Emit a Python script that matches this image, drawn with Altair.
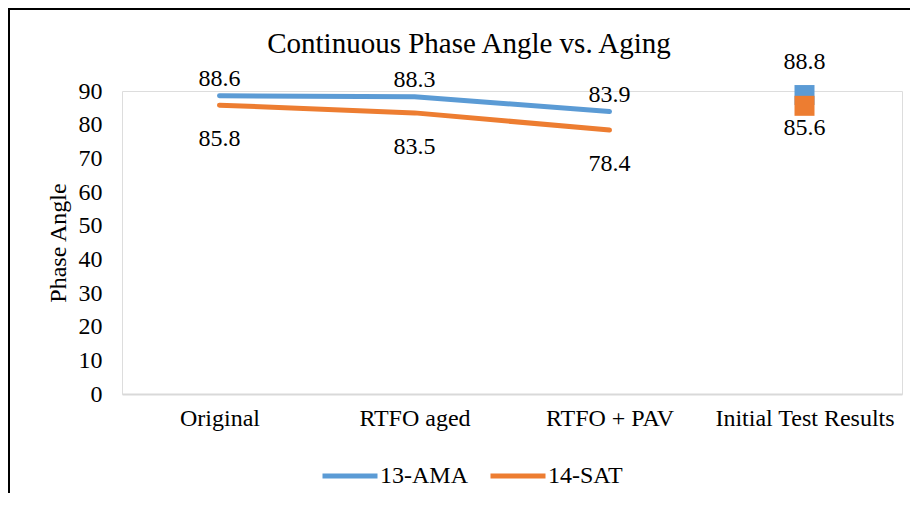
import altair as alt
import pandas as pd

title_text = "Continuous Phase Angle vs. Aging"
categories = ["Original", "RTFO aged", "RTFO + PAV", "Initial Test Results"]
series_names = ["13-AMA", "14-SAT"]
ama_values = [88.6, 88.3, 83.9, 88.8]
sat_values = [85.8, 83.5, 78.4, 85.6]
y_ticks = [0, 10, 20, 30, 40, 50, 60, 70, 80, 90]

rows = []
for name, vals in zip(series_names, [ama_values, sat_values]):
    for c, v in zip(categories, vals):
        rows.append({"stage": c, "series": name, "value": v})
df = pd.DataFrame(rows)

FONT = "Liberation Serif, Times New Roman, serif"
BLUE = "#5B9BD5"
ORANGE = "#ED7D31"
W, H = 780, 303
PAD = {"left": 114, "top": 83, "right": 8, "bottom": 99}

last = categories[-1]
color_scale = alt.Scale(domain=series_names, range=[BLUE, ORANGE])

x_enc = alt.X("stage:N", sort=categories, title=None,
              axis=alt.Axis(labelFont=FONT, labelFontSize=24, labelColor="#000000",
                            labelAngle=0, labelPadding=12, labelLimit=400, labelOverlap=False,
                            ticks=False, domainColor="#D9D9D9", domainWidth=2, grid=False))
y_enc = alt.Y("value:Q", title="Phase Angle",
              scale=alt.Scale(domain=[0, 90], nice=False),
              axis=alt.Axis(values=y_ticks, labelFont=FONT, labelFontSize=24, labelColor="#000000",
                            labelPadding=20, ticks=False, domain=False, grid=False,
                            titleFont=FONT, titleFontSize=24, titleFontWeight="normal",
                            titleColor="#000000", titlePadding=8))

base = alt.Chart(df)

lines = base.mark_line(strokeWidth=5, strokeCap="round", strokeJoin="round").encode(
    x=x_enc, y=y_enc,
    color=alt.Color("series:N", scale=color_scale, title=None,
                    legend=alt.Legend(orient="none", legendX=198, legendY=355, direction="horizontal",
                                      symbolType="stroke", symbolSize=3025, symbolStrokeWidth=5,
                                      labelFont=FONT, labelFontSize=24, labelColor="#000000",
                                      labelOffset=0, columnPadding=12)),
).transform_filter(alt.datum.stage != last)

points = base.mark_point(shape="square", filled=True, size=400, opacity=1).encode(
    x=x_enc, y=y_enc,
    color=alt.Color("series:N", scale=color_scale, legend=None),
).transform_filter(alt.datum.stage == last)

def label_layer(series, on_last, dy):
    cond = (alt.datum.stage == last) if on_last else (alt.datum.stage != last)
    return base.mark_text(font=FONT, fontSize=24, color="#000000", baseline="middle", dy=dy).encode(
        x=x_enc, y=y_enc, text=alt.Text("value:Q", format=".1f")
    ).transform_filter(cond).transform_filter(alt.datum.series == series)

labels = [
    label_layer("13-AMA", False, -17),
    label_layer("14-SAT", False, 34),
    label_layer("13-AMA", True, -33),
    label_layer("14-SAT", True, 22),
]

one_df = pd.DataFrame({"k": [0]})
frame_left = alt.Chart(one_df).mark_rule(color="#000000", strokeWidth=2).encode(
    x=alt.value(-113), y=alt.value(-83), y2=alt.value(H + PAD["bottom"]))
frame_top = alt.Chart(one_df).mark_rule(color="#000000", strokeWidth=2).encode(
    x=alt.value(-114), x2=alt.value(W + PAD["right"]), y=alt.value(-82))
title = alt.Chart(one_df).mark_text(font=FONT, fontSize=29, color="#000000",
                                    align="center", baseline="alphabetic").encode(
    x=alt.value(347), y=alt.value(-38), text=alt.value(title_text))

chart = alt.layer(lines, points, *labels, frame_left, frame_top, title).properties(
    width=W, height=H,
    padding=PAD,
    autosize=alt.AutoSizeParams(type="none"),
).configure_view(stroke=None).configure(background="white")

chart.save("out.html", embed_options={"renderer": "svg", "actions": False})
